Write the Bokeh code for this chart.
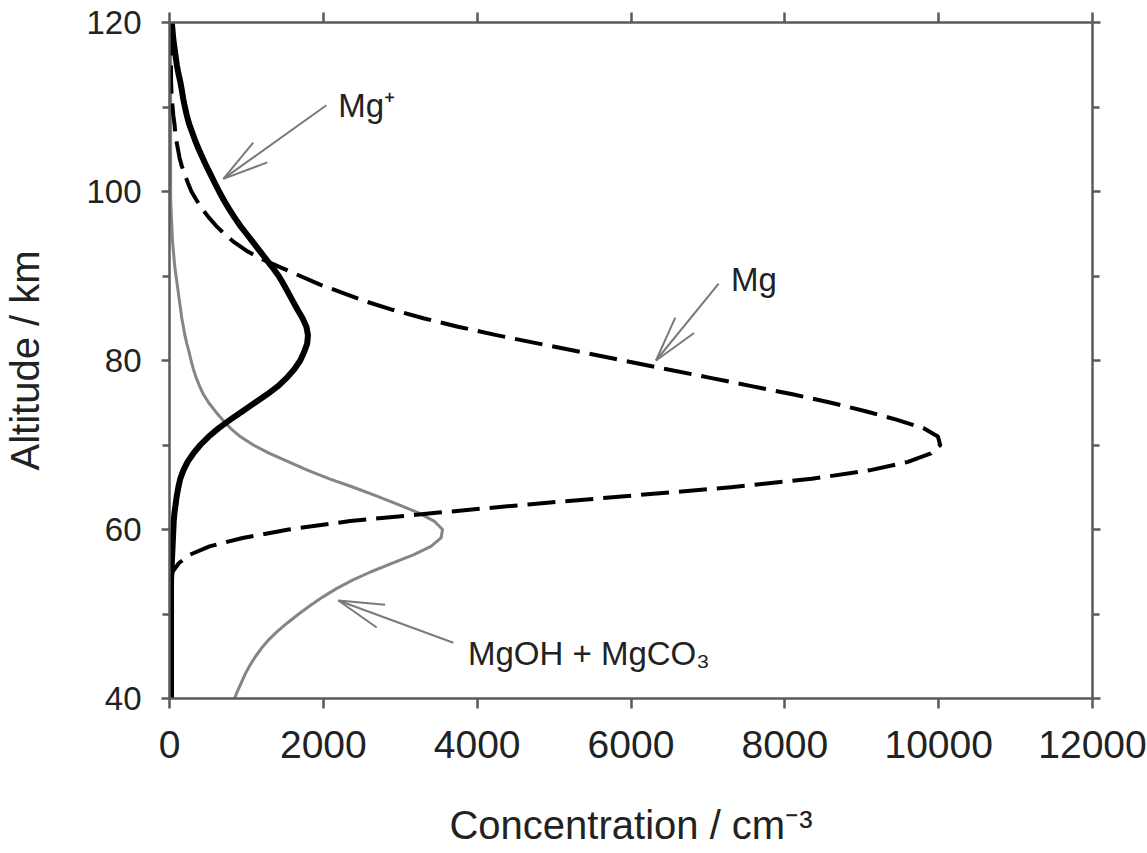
import math

from bokeh.plotting import figure
from bokeh.models import (LinearAxis, FixedTicker, Arrow, Label,
                          CustomLabelingPolicy)
from bokeh.embed import file_html
from bokeh.resources import INLINE

# Altitude grid (km) shared by all three profiles
altitude_km = list(range(40, 121))

# Neutral Mg concentration (cm^-3), 40..120 km
mg = [10, 10, 10, 10, 10, 10, 10, 10, 10, 10,
      10, 10, 10, 12, 15, 40, 120, 260, 520, 950,
      1550, 2350, 3500, 4700, 6000, 7300, 8350, 9100, 9600, 9900,
      10020, 9990, 9800, 9450, 9050, 8600, 8100, 7550, 7000, 6450,
      5900, 5350, 4800, 4250, 3750, 3300, 2900, 2550, 2250, 1950,
      1700, 1450, 1200, 1000, 840, 710, 600, 505, 420, 350,
      285, 240, 200, 160, 130, 110, 90, 75, 65, 50,
      40, 30, 25, 20, 20, 20, 20, 20, 20, 20, 20]

# Mg+ concentration (cm^-3), 40..120 km
mg_ion = [20, 20, 20, 20, 20, 20, 20, 20, 20, 20,
          20, 20, 20, 20, 20, 25, 30, 35, 40, 45,
          50, 55, 65, 80, 95, 115, 140, 180, 235, 310,
          400, 510, 640, 790, 950, 1110, 1270, 1415, 1530, 1625,
          1700, 1750, 1790, 1800, 1780, 1730, 1665, 1605, 1545, 1485,
          1420, 1340, 1255, 1170, 1085, 1000, 915, 840, 770, 705,
          645, 590, 535, 480, 430, 380, 335, 295, 255, 225,
          200, 178, 160, 140, 115, 95, 80, 65, 50, 40, 30]

# MgOH + MgCO3 concentration (cm^-3), 40..120 km
mg_oh_co3 = [845, 890, 940, 990, 1050, 1120, 1200, 1295, 1410, 1540,
             1680, 1830, 1990, 2170, 2380, 2620, 2890, 3170, 3400, 3530,
             3550, 3440, 3230, 2960, 2680, 2390, 2080, 1800, 1550, 1300,
             1090, 920, 790, 690, 595, 510, 440, 390, 345, 310,
             280, 255, 225, 200, 180, 160, 145, 130, 115, 100,
             85, 70, 60, 50, 40, 35, 30, 25, 20, 15,
             15, 15, 15, 15, 15, 15, 15, 15, 15, 15,
             15, 15, 15, 15, 15, 15, 15, 15, 15, 15, 15]

x_ticks = [0, 2000, 4000, 6000, 8000, 10000, 12000]
y_ticks = [40, 60, 80, 100, 120]
y_minor_ticks = [50, 70, 90, 110]

# Curve labels: text, label anchor (x, y) and arrow tail -> tip, in data units
label_texts = ["Mg\u207a", "Mg", "MgOH + MgCO\u2083"]
label_x = [2195, 7300, 3880]
label_y = [110.2, 89.6, 45.3]
arrow_x0 = [2040, 7140, 3690]
arrow_y0 = [110.2, 89.1, 46.6]
arrow_x1 = [700, 6325, 2195]
arrow_y1 = [101.5, 80.0, 51.6]

FONT = "Liberation Sans"
AXIS_COLOR = "#5a5a5a"
TEXT_COLOR = "#222222"
ARROW_COLOR = "#7a7a7a"

W, H = 1147, 853
BORDER_L, BORDER_R, BORDER_T, BORDER_B = 168, 55, 22, 155
X_RANGE = (0, 12000)
Y_RANGE = (40, 120)

p = figure(width=W, height=H, x_range=X_RANGE, y_range=Y_RANGE,
           output_backend="svg", toolbar_location=None,
           min_border_left=BORDER_L, min_border_right=BORDER_R,
           min_border_top=BORDER_T, min_border_bottom=BORDER_B)
p.background_fill_color = "white"
p.border_fill_color = "white"
p.outline_line_color = None
p.xgrid.visible = False
p.ygrid.visible = False

# Profiles
p.line(mg_oh_co3, altitude_km, line_color="#858585", line_width=3, line_join="round")
p.line(mg, altitude_km, line_color="black", line_width=4, line_dash="28 10",
       line_join="round")
p.line(mg_ion, altitude_km, line_color="black", line_width=6, line_join="round")

# Axes on all four sides; the top and right ones carry ticks only
top = LinearAxis()
right = LinearAxis()
p.add_layout(top, "above")
p.add_layout(right, "right")

for ax in p.xaxis:
    ax.ticker = FixedTicker(ticks=x_ticks, minor_ticks=[])
    ax.major_tick_out = 10
    ax.minor_tick_out = 0
for ax in p.yaxis:
    ax.ticker = FixedTicker(ticks=y_ticks, minor_ticks=y_minor_ticks)
    ax.major_tick_out = 8
    ax.minor_tick_out = 7

for ax in p.xaxis + p.yaxis:
    ax.axis_line_color = AXIS_COLOR
    ax.axis_line_width = 2.5
    ax.major_tick_line_color = AXIS_COLOR
    ax.major_tick_line_width = 2.5
    ax.minor_tick_line_color = AXIS_COLOR
    ax.minor_tick_line_width = 2.5
    ax.major_tick_in = 0
    ax.minor_tick_in = 0
    ax.major_label_text_font = FONT
    ax.major_label_text_color = TEXT_COLOR
    ax.axis_label_text_font = FONT
    ax.axis_label_text_font_style = "normal"
    ax.axis_label_text_color = TEXT_COLOR

no_labels = CustomLabelingPolicy(code="""
    for (const i of indices) indices.unset(i)
    return indices
""")
for ax in (top, right):
    ax.major_label_policy = no_labels
    ax.major_label_text_font_size = "1px"
    ax.major_label_standoff = 0

bottom = p.below[0]
left = p.left[0]
bottom.major_label_text_font_size = "39px"
bottom.major_label_standoff = 22
bottom.axis_label = "Concentration / cm\u207b\u00b3"
bottom.axis_label_text_font_size = "40px"
bottom.axis_label_standoff = 42

left.major_label_text_font_size = "33px"
left.major_label_standoff = 20
left.axis_label = "Altitude / km"
left.axis_label_text_font_size = "40px"
left.axis_label_standoff = 36

# Screen scale of the plot frame, used to shape the arrowheads
px_per_x = (W - BORDER_L - BORDER_R) / (X_RANGE[1] - X_RANGE[0])
px_per_y = (H - BORDER_T - BORDER_B) / (Y_RANGE[1] - Y_RANGE[0])
HEAD_LEN = 47      # arm length, px
HEAD_HALF = 15     # half-angle of the open head, degrees


def head_arms(x0, y0, x1, y1):
    """End points of the two arms of an open arrowhead at (x1, y1)."""
    dx = (x0 - x1) * px_per_x
    dy = (y0 - y1) * px_per_y
    base = math.atan2(dy, dx)
    arms = []
    for sign in (-1, 1):
        a = base + sign * math.radians(HEAD_HALF)
        arms.append((x1 + HEAD_LEN * math.cos(a) / px_per_x,
                     y1 + HEAD_LEN * math.sin(a) / px_per_y))
    return arms


for txt, lx, ly, x0, y0, x1, y1 in zip(label_texts, label_x, label_y,
                                       arrow_x0, arrow_y0, arrow_x1, arrow_y1):
    p.add_layout(Arrow(end=None, x_start=x0, y_start=y0, x_end=x1, y_end=y1,
                       line_color=ARROW_COLOR, line_width=2))
    for ax_, ay_ in head_arms(x0, y0, x1, y1):
        p.add_layout(Arrow(end=None, x_start=x1, y_start=y1, x_end=ax_, y_end=ay_,
                           line_color=ARROW_COLOR, line_width=2))
    p.add_layout(Label(x=lx, y=ly, text=txt, text_font=FONT, text_font_size="33px",
                       text_color=TEXT_COLOR, text_baseline="alphabetic",
                       text_align="left"))

open("out.html", "w").write(file_html(p, INLINE))
